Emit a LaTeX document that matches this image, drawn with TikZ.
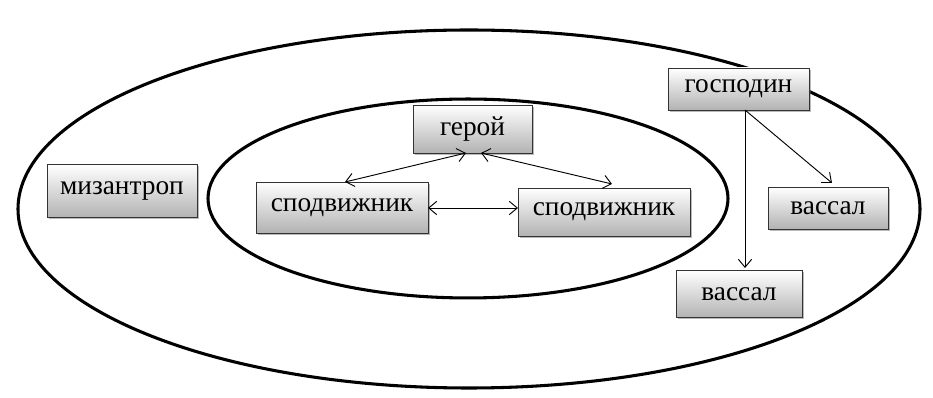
\documentclass[tikz,border=0pt]{standalone}
\usepackage{fontspec}
\setmainfont{Liberation Serif}
\usetikzlibrary{shadows,arrows.meta}
\begin{document}
\begin{tikzpicture}[x=0.75pt,y=-0.75pt,
  box/.style={draw=black!80, line width=0.7pt, top color=white, bottom color=black!30,
    inner sep=0pt, font=\fontsize{20.5}{24}\selectfont,
    drop shadow={shadow xshift=1.5pt, shadow yshift=-1.5pt, opacity=0.45, fill=black!60}},
  ring/.style={line width=2.3pt},
  conn/.style={line width=0.7pt, -{Straight Barb[length=6pt,width=10pt]}},
  biconn/.style={line width=0.7pt, {Straight Barb[length=6pt,width=10pt]}-{Straight Barb[length=6pt,width=10pt]}}]
\useasboundingbox (0,0) rectangle (933,398);
\draw[ring] (469,209) ellipse [x radius=338.25pt, y radius=134.25pt];
\draw[ring] (468,198.5) ellipse [x radius=195pt, y radius=74.6pt];

\node[box, minimum width={119*0.75pt}, minimum height={48*0.75pt}] (hero) at (472.5,129) {герой};
\node[box, minimum width={172*0.75pt}, minimum height={51*0.75pt}] (spl) at (342,207.5) {сподвижник};
\node[box, minimum width={172*0.75pt}, minimum height={48*0.75pt}] (spr) at (604,212) {сподвижник};
\node[box, minimum width={150*0.75pt}, minimum height={53*0.75pt}] (mis) at (122,191) {мизантроп};
\node[box, minimum width={141*0.75pt}, minimum height={42*0.75pt}] (lord) at (738.5,89) {господин};
\node[box, minimum width={120*0.75pt}, minimum height={42*0.75pt}] (vr) at (828,208) {вассал};
\node[box, minimum width={126*0.75pt}, minimum height={47*0.75pt}] (vb) at (739,294) {вассал};

\coordinate (lordb) at (745,110);
\coordinate (vbt) at (745,268);
\coordinate (vrt) at (832,183);
\coordinate (herol) at (466,153);
\coordinate (heror) at (481,153);
\coordinate (splt) at (345,182);
\coordinate (sprt) at (612,184);
\coordinate (splr) at (428,208);
\coordinate (sprl) at (518,208);

\draw[conn] (lordb) -- (vbt);
\draw[conn] (lordb) -- (vrt);
\draw[biconn] (splt) -- (herol);
\draw[biconn] (heror) -- (sprt);
\draw[biconn] (splr) -- (sprl);
\end{tikzpicture}
\end{document}
